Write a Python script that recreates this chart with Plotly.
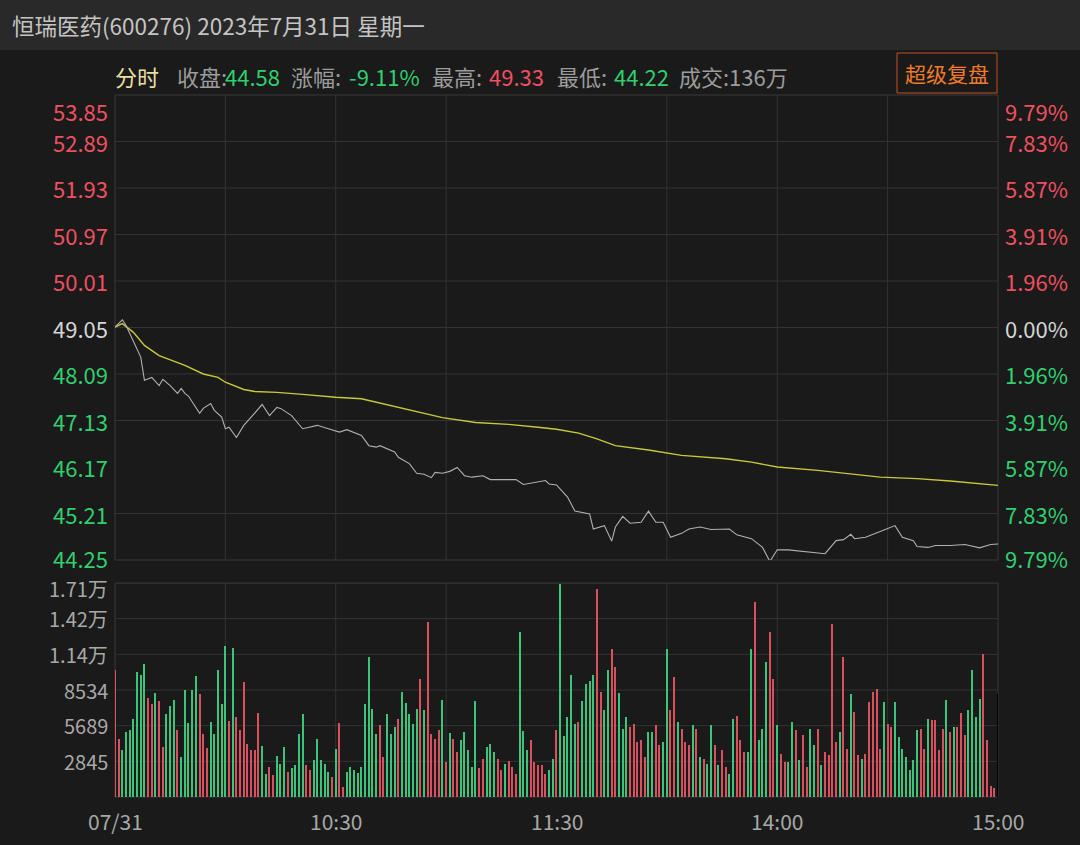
import plotly.graph_objects as go

# ---------------- data ----------------
title_text = "恒瑞医药(600276) 2023年7月31日 星期一"

# minute index from 09:30 (0) to 15:00 (240), lunch break removed
price_minutes = [0, 2, 3, 5, 7, 8, 10, 12, 13, 15, 17, 18, 19, 20, 23, 24, 26, 27, 29, 30,
                 31, 33, 35, 37, 39, 40, 42, 44, 45, 48, 51, 53, 55, 58, 61, 63, 67, 69, 71, 72,
                 76, 77, 80, 82, 84, 86, 87, 89, 91, 93, 95, 97, 100, 102, 106, 109, 111, 115, 117, 118,
                 120, 123, 125, 129, 130, 133, 135, 136, 138, 140, 143, 145, 147, 149, 151, 154, 156, 159, 162, 167,
                 169, 173, 176, 178, 180, 183, 187, 191, 193, 196, 198, 200, 201, 204, 207, 209, 212, 214, 217, 218,
                 221, 223, 227, 231, 235, 238, 240]
price_values = [49.06, 49.21, 49.09, 48.78, 48.44, 47.96, 48.02, 47.85, 47.98, 47.85, 47.69, 47.79, 47.69, 47.63, 47.28, 47.38, 47.48, 47.34, 47.20, 46.96,
                46.99, 46.78, 47.03, 47.20, 47.38, 47.46, 47.23, 47.40, 47.38, 47.23, 46.96, 46.99, 47.03, 46.96, 46.89, 46.94, 46.82, 46.61, 46.58, 46.61,
                46.48, 46.37, 46.24, 46.04, 46.02, 45.95, 46.06, 46.04, 46.08, 46.16, 45.99, 45.96, 45.99, 45.91, 45.91, 45.91, 45.81, 45.86, 45.89, 45.82,
                45.80, 45.55, 45.26, 45.20, 44.89, 44.96, 44.64, 44.93, 45.15, 45.01, 45.03, 45.26, 45.03, 45.03, 44.72, 44.80, 44.89, 44.93, 44.88, 44.89,
                44.77, 44.69, 44.51, 44.22, 44.46, 44.46, 44.43, 44.39, 44.38, 44.65, 44.67, 44.78, 44.69, 44.72, 44.82, 44.87, 44.96, 44.72, 44.65, 44.53,
                44.51, 44.55, 44.55, 44.57, 44.50, 44.57, 44.58]

avg_minutes = [0, 2, 5, 8, 12, 19, 24, 28, 30, 35, 38, 44, 51, 60, 67, 71, 77, 85, 89, 98,
               107, 115, 120, 126, 131, 136, 145, 154, 166, 173, 180, 191, 200, 208, 218, 227, 240]
avg_values = [49.06, 49.13, 48.95, 48.68, 48.47, 48.27, 48.09, 48.02, 47.92, 47.77, 47.73, 47.71, 47.67, 47.61, 47.58, 47.51, 47.40, 47.25, 47.19, 47.09,
              47.05, 46.99, 46.95, 46.87, 46.75, 46.61, 46.52, 46.41, 46.34, 46.27, 46.17, 46.10, 46.02, 45.96, 45.93, 45.88, 45.79]

vol_values = [
    10104, 4653, 3723, 5185, 5371, 6249, 9971, 9705, 10636, 7897,
    7445, 8296, 7631, 3989, 6648, 7232, 7711, 5318, 3191, 8509,
    5903, 8562, 9626, 8190, 4999, 3909, 5983, 5052, 10157, 7392,
    12019, 6063, 11886, 6382, 5318, 9174, 4201, 3723, 3723, 6701,
    4042, 1861, 2393, 1728, 3271, 2659, 3989, 1994, 2313, 2526,
    5052, 6594, 2526, 2127, 2925, 4653, 2925, 2606, 1994, 1595,
    3856, 5903, 798, 1994, 2393, 2127, 1900,
    2393, 7392, 11168, 7046, 4999, 5717, 3191, 6648, 5052, 5584,
    6249, 8376, 7498, 6594, 5797, 7046, 9439, 6913, 13960, 5052,
    4653, 5318, 7711, 2792, 5105, 4653, 3590, 4520, 5185, 3723,
    2393, 7658, 2340, 3058, 3989, 4201, 3590, 3058, 2127, 2659,
    2872, 2393, 1861, 13162, 5265, 3723, 4573, 2792, 2526, 2526,
    1861, 2127, 3058, 5371, 16964, 4839, 6382, 9705, 5797, 5983,
    7658, 9041, 9253, 9705, 16566, 8376, 6913, 10104, 11833, 10370,
    8296, 5451, 6382, 5584, 5797, 4387, 4573, 3191, 5185, 5185,
    5717, 4121, 4387, 11833, 6913, 9572, 5983, 5451, 4387, 4121,
    5717, 5451, 3191, 3058, 2659, 5717, 4121, 2526,
    3723, 2393, 1861, 6249, 6435, 4520, 3590, 3590, 11833, 15555,
    4520, 5451, 10769, 13162, 9439, 5717, 3457, 2792, 2792, 5983,
    5318, 2925, 4919, 2393, 5451, 4121, 5451, 2526, 3590, 3324,
    13827, 4387, 5185, 11168, 3856, 8243, 6780, 3324, 3058, 3457,
    7578, 8376, 8642, 3856, 7578, 5850, 5584, 7578, 4786, 3856,
    3191, 2127, 2925, 5318, 5451, 3856, 6249, 6116, 6116, 3723,
    5451, 7711, 5185, 5584, 5584, 6701, 4919, 6967, 10104, 6382,
    7844, 11381, 4573, 900, 700, 8243]

vol_dirs = (
    "rrgggggggr" "rgrrgggrgg" "gggrrrgggg" "grgrrrrrrr" "ggrrgggrgg"
    "ggrrgggggr" "grrgggg"
    "gggggrrggg" "rgggggrgrr" "rrgrgrrggg" "ggrrgggrrg" "rrrgggrrrr"
    "rggrgggggr" "ggggrrggrr" "gggrrrrrgg" "rrggrrgrrr" "grgrggr"
    "grrggrrrgg" "rgggrrgrrg" "grgrrggrgr" "rrrgrrgrrg" "rrrrrgrrgg"
    "gggggrrgrr" "rrgrgrrrgg" "ggrrrr"
)

price_ticks = [53.85, 52.89, 51.93, 50.97, 50.01, 49.05, 48.09, 47.13, 46.17, 45.21, 44.25]
price_tick_labels = ["53.85", "52.89", "51.93", "50.97", "50.01", "49.05", "48.09", "47.13", "46.17", "45.21", "44.25"]
pct_tick_labels = ["9.79%", "7.83%", "5.87%", "3.91%", "1.96%", "0.00%", "1.96%", "3.91%", "5.87%", "7.83%", "9.79%"]
price_grid = [52.89, 51.93, 50.97, 50.01, 49.05, 48.09, 47.13, 45.21]

vol_ticks = [17070, 14225, 11380, 8534, 5689, 2845]
vol_tick_labels = ["1.71万", "1.42万", "1.14万", "8534", "5689", "2845"]

time_ticks = [0, 60, 120, 180, 240]
time_tick_labels = ["07/31", "10:30", "11:30", "14:00", "15:00"]
time_grid = [30, 60, 90, 150, 180, 210]

info_texts = ["分时", "收盘:", "44.58", "涨幅:", "-9.11%", "最高:", "49.33", "最低:", "44.22", "成交:136万"]
info_kinds = ["mode", "label", "down", "label", "down", "label", "up", "label", "down", "label"]

# ---------------- style ----------------
W, H = 1080, 845
BG = "#1a1a1a"
HEADER = "#292929"
GRID = "#333333"
RED = "#ef5060"
GREEN = "#2fcf6f"
NEUTRAL = "#d6d6d6"
GRAYTXT = "#a8a8a8"
FONT = "Noto Sans CJK SC"
BAR_RED = "#d9505e"
BAR_GREEN = "#3cc47a"
KIND_COLORS = {"mode": "#e8dfa0", "label": "#9c9c9c", "down": GREEN, "up": RED}
INFO_X = [113, 175, 223, 289, 347, 430, 487, 555, 612, 677]

X0, X1 = 115, 998
P_TOP, P_BOT = 95, 560
V_TOP, V_BOT = 583, 797


def px(x):
    return x / W


def py(y):
    return 1 - y / H


fig = go.Figure()

fig.add_trace(go.Bar(
    x=list(range(len(vol_values))), y=vol_values,
    marker=dict(color=[BAR_RED if d == "r" else BAR_GREEN for d in vol_dirs], line=dict(width=0)),
    width=0.32, xaxis="x2", yaxis="y2", hoverinfo="skip", showlegend=False))

fig.add_trace(go.Scatter(
    x=avg_minutes, y=avg_values, mode="lines",
    line=dict(color="#c9c83a", width=1.4), xaxis="x", yaxis="y",
    hoverinfo="skip", showlegend=False))

fig.add_trace(go.Scatter(
    x=price_minutes, y=price_values, mode="lines",
    line=dict(color="#b0b0b0", width=1.1), xaxis="x", yaxis="y",
    hoverinfo="skip", showlegend=False))

shapes = []
shapes.append(dict(type="rect", xref="paper", yref="paper", x0=0, x1=1, y0=py(50), y1=1,
                   fillcolor=HEADER, line=dict(width=0), layer="below"))
for v in price_grid:
    shapes.append(dict(type="line", xref="x", yref="y", x0=0, x1=240, y0=v, y1=v,
                       line=dict(color=GRID, width=1), layer="below"))
for t in time_grid:
    shapes.append(dict(type="line", xref="x", yref="y", x0=t, x1=t, y0=44.25, y1=53.85,
                       line=dict(color=GRID, width=1), layer="below"))
    shapes.append(dict(type="line", xref="x2", yref="y2", x0=t, x1=t, y0=0, y1=17070,
                       line=dict(color=GRID, width=1), layer="below"))
for v in vol_ticks:
    shapes.append(dict(type="line", xref="x2", yref="y2", x0=0, x1=240, y0=v, y1=v,
                       line=dict(color=GRID, width=1), layer="below"))
shapes.append(dict(type="rect", xref="paper", yref="paper", x0=px(X0), x1=px(X1), y0=py(P_BOT), y1=py(P_TOP),
                   line=dict(color="#383838", width=1), layer="below"))
shapes.append(dict(type="rect", xref="paper", yref="paper", x0=px(X0), x1=px(X1), y0=py(V_BOT), y1=py(V_TOP),
                   line=dict(color="#383838", width=1), layer="below"))
shapes.append(dict(type="rect", xref="paper", yref="paper", x0=px(897), x1=px(997), y0=py(93), y1=py(53),
                   line=dict(color="#c0501c", width=1), fillcolor="rgba(0,0,0,0)"))

ann = []
ann.append(dict(text=title_text, x=px(10), y=py(25), xref="paper", yref="paper", xanchor="left", yanchor="middle",
                showarrow=False, font=dict(family=FONT, size=22.5, color="#c4c4c4")))
for t, k, xx in zip(info_texts, info_kinds, INFO_X):
    ann.append(dict(text=t, x=px(xx), y=py(76), xref="paper", yref="paper", xanchor="left", yanchor="middle",
                    showarrow=False, font=dict(family=FONT, size=22, color=KIND_COLORS[k])))
ann.append(dict(text="超级复盘", x=px(947), y=py(73), xref="paper", yref="paper", xanchor="center", yanchor="middle",
                showarrow=False, font=dict(family=FONT, size=21, color="#f07a28")))

n_ticks = len(price_ticks)
for i, (v, lab, pl) in enumerate(zip(price_ticks, price_tick_labels, pct_tick_labels)):
    if v > 49.05:
        col = RED
    elif v < 49.05:
        col = GREEN
    else:
        col = NEUTRAL
    ya = "top" if i == 0 else "middle"
    ys = 2 if i == 0 else (2 if i == n_ticks - 1 else 0)
    ann.append(dict(text=lab, x=px(110), y=v, xref="paper", yref="y", xanchor="right", yanchor=ya, yshift=ys,
                    showarrow=False, font=dict(family=FONT, size=22, color=col)))
    ann.append(dict(text=pl, x=px(1003), y=v, xref="paper", yref="y", xanchor="left", yanchor=ya, yshift=ys,
                    showarrow=False, font=dict(family=FONT, size=22, color=col)))

for v, lab in zip(vol_ticks, vol_tick_labels):
    ann.append(dict(text=lab, x=px(110), y=v, xref="paper", yref="y2", xanchor="right", yanchor="middle",
                    yshift=-5 if v == vol_ticks[0] else 0,
                    showarrow=False, font=dict(family=FONT, size=20, color=GRAYTXT)))

for t, lab in zip(time_ticks, time_tick_labels):
    ann.append(dict(text=lab, x=t, y=py(821), xref="x2", yref="paper", xanchor="center", yanchor="middle",
                    showarrow=False, font=dict(family=FONT, size=21, color=GRAYTXT)))

fig.update_layout(
    width=W, height=H, margin=dict(l=0, r=0, t=0, b=0),
    paper_bgcolor=BG, plot_bgcolor=BG,
    shapes=shapes, annotations=ann, bargap=0,
    xaxis=dict(domain=[px(X0), px(X1)], range=[0, 240], visible=False, anchor="y", fixedrange=True),
    yaxis=dict(domain=[py(P_BOT), py(P_TOP)], range=[44.25, 53.85], visible=False, anchor="x", fixedrange=True),
    xaxis2=dict(domain=[px(X0), px(X1)], range=[0, 240], visible=False, anchor="y2", fixedrange=True),
    yaxis2=dict(domain=[py(V_BOT), py(V_TOP)], range=[0, 17070], visible=False, anchor="x2", fixedrange=True),
)

fig.write_html("out.html")
